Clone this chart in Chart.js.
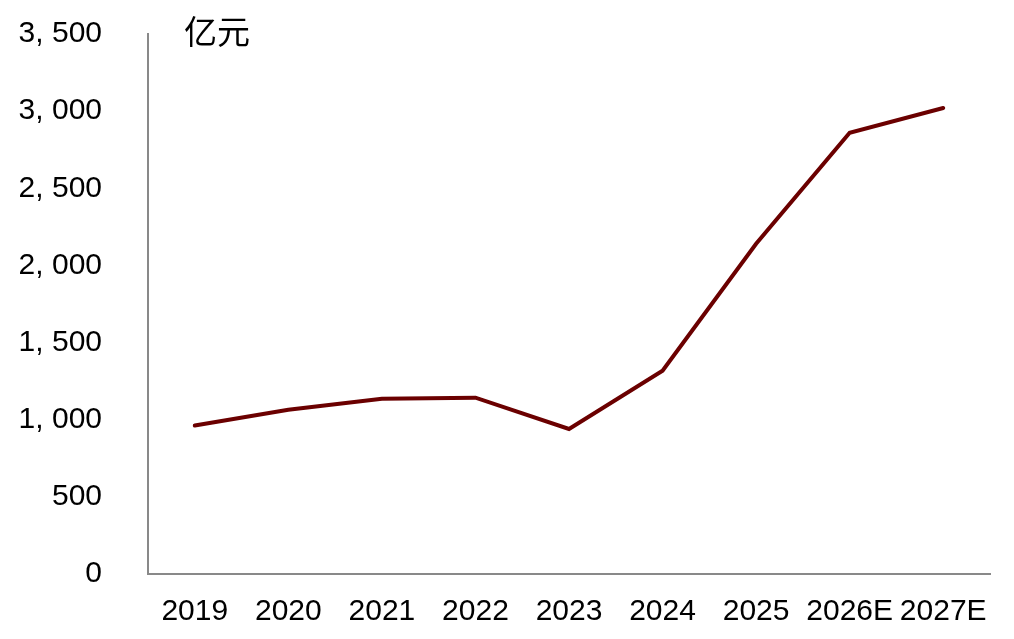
<!DOCTYPE html>
<html>
<head>
<meta charset="utf-8">
<script src="https://cdn.jsdelivr.net/npm/chart.js@4/dist/chart.umd.min.js"></script>
<style>
  html, body { margin: 0; padding: 0; background: #fff; }
  #wrap { position: relative; width: 1014px; height: 639px; }
  #unit {
    position: absolute; left: 184px; top: 10px;
    font-family: "Noto Sans CJK SC", sans-serif; font-size: 33px; line-height: 40px;
    color: #000;
  }
</style>
</head>
<body>
<div id="wrap">
  <canvas id="myChart" width="1014" height="639"></canvas>
  <div id="unit">亿元</div>
</div>
<script>
// categories and values
const years = ['2019', '2020', '2021', '2022', '2023', '2024', '2025', '2026E', '2027E'];
const values = [962, 1065, 1136, 1143, 940, 1318, 2140, 2860, 3020];
const yTicks = [0, 500, 1000, 1500, 2000, 2500, 3000, 3500];

const axisGrey = '#898989';
const tickFont = { family: '"Liberation Sans", Arial, sans-serif', size: 30 };

// "3500" -> "3, 500"
function fmt(v) {
    const s = String(v);
    if (s.length <= 3) return s;
    return s.slice(0, s.length - 3) + ', ' + s.slice(s.length - 3);
}

const graphData = {
    type: 'line',
    data: {
        labels: years,
        datasets: [{
            label: '亿元',
            data: values,
            borderColor: '#6B0000',
            borderWidth: 4,
            borderCapStyle: 'round',
            pointRadius: 0,
            tension: 0,
            fill: false
        }]
    },
    options: {
        responsive: false,
        animation: false,
        devicePixelRatio: 1,
        layout: { padding: { top: 34, right: 24, bottom: 0, left: 0 } },
        plugins: { legend: { display: false }, tooltip: { enabled: false } },
        scales: {
            x: {
                offset: true,
                grid: { display: false, drawTicks: false },
                border: { display: true, color: axisGrey, width: 2 },
                ticks: { color: '#000', font: tickFont, padding: 20, maxRotation: 0, autoSkip: false },
                afterFit: function(scale) {
                    scale.height = 65;
                    scale.paddingLeft = 0;
                    scale.paddingRight = 0;
                }
            },
            y: {
                min: 0,
                max: 3500,
                afterBuildTicks: function(scale) { scale.ticks = yTicks.map(v => ({ value: v })); },
                grid: { display: false, drawTicks: false },
                border: { display: true, color: axisGrey, width: 2 },
                ticks: { color: '#000', font: tickFont, padding: 46, callback: v => fmt(v) },
                afterFit: function(scale) {
                    scale.width = 148;
                    scale.paddingTop = 0;
                    scale.paddingBottom = 0;
                }
            }
        }
    }
};

const ctx = document.getElementById('myChart').getContext('2d');
const myChart = new Chart(ctx, graphData);
</script>
</body>
</html>
